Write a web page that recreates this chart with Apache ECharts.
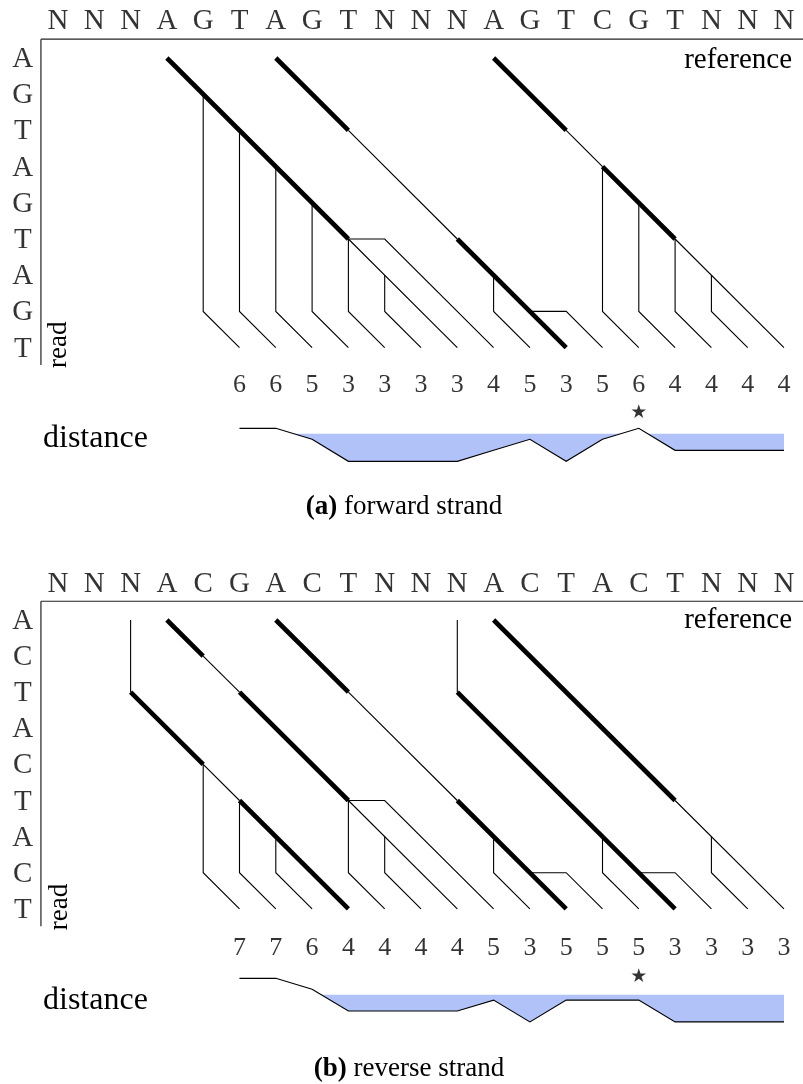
<!DOCTYPE html>
<html><head><meta charset="utf-8">
<script src="https://cdn.jsdelivr.net/npm/echarts@6/dist/echarts.min.js"></script>
<style>html,body{margin:0;padding:0;background:#fff}#c{width:803px;height:1084px}</style>
</head><body><div id="c"></div>
<script>
// ---------- Panel (a): forward strand ----------
const refA  = ['N','N','N','A','G','T','A','G','T','N','N','N','A','G','T','C','G','T','N','N','N'];
const readA = ['A','G','T','A','G','T','A','G','T'];
const distA = [6,6,5,3,3,3,3,4,5,3,5,6,4,4,4,4];
const starColA = 16;
const thickA = [
  [[3,0],[8,5]], [[6,0],[8,2]], [[11,5],[14,8]], [[12,0],[14,2]], [[15,3],[17,5]]
];
const thinA = [
  [[8,2],[11,5]], [[14,2],[15,3]], [[17,5],[20,8]],
  [[4,1],[4,7],[5,8]], [[5,2],[5,7],[6,8]], [[6,3],[6,7],[7,8]], [[7,4],[7,7],[8,8]], [[8,5],[8,7],[9,8]],
  [[8,5],[11,8]], [[8,5],[9,5],[12,8]], [[9,6],[9,7],[10,8]], [[12,6],[12,7],[13,8]], [[13,7],[14,7],[15,8]],
  [[15,3],[15,7],[16,8]], [[16,4],[16,7],[17,8]], [[17,5],[17,7],[18,8]], [[18,6],[18,7],[19,8]]
];

// ---------- Panel (b): reverse strand ----------
const refB  = ['N','N','N','A','C','G','A','C','T','N','N','N','A','C','T','A','C','T','N','N','N'];
const readB = ['A','C','T','A','C','T','A','C','T'];
const distB = [7,7,6,4,4,4,4,5,3,5,5,5,3,3,3,3];
const starColB = 16;
const thickB = [
  [[2,2],[4,4]], [[5,5],[8,8]], [[3,0],[4,1]], [[5,2],[8,5]], [[6,0],[8,2]],
  [[11,5],[14,8]], [[11,2],[17,8]], [[12,0],[17,5]]
];
const thinB = [
  [[2,0],[2,2]], [[4,4],[5,5]], [[4,1],[5,2]], [[8,2],[11,5]], [[11,0],[11,2]], [[17,5],[20,8]],
  [[4,4],[4,7],[5,8]], [[5,5],[5,7],[6,8]], [[6,6],[6,7],[7,8]], [[8,5],[8,7],[9,8]],
  [[8,5],[9,5],[12,8]], [[8,5],[11,8]], [[9,6],[9,7],[10,8]], [[12,6],[12,7],[13,8]], [[13,7],[14,7],[15,8]],
  [[15,6],[15,7],[16,8]], [[16,7],[17,7],[18,8]], [[18,6],[18,7],[19,8]]
];

const firstDistCol = 5;
const threshold = 5.5;

// ---------- layout ----------
const SERIF = "'Liberation Serif', 'Times New Roman', serif";
const FILL = '#b1c2f8';
const NUM_ROW = [9.05, 9.1];
const STAR_ROW = [9.82, 9.88];

const chart = echarts.init(document.getElementById('c'), null, {renderer:'canvas'});
const series = [];

function addPaths(paths, width, xi, yi, color){
  paths.forEach(p => series.push({
    type:'line', xAxisIndex:xi, yAxisIndex:yi, data:p, symbol:'none', clip:false,
    silent:true, animation:false, z:3,
    lineStyle:{color:color||'#000', width:width, cap:'butt', join:'miter'}
  }));
}
function addText(items, xi, yi, fontSize, family){
  series.push({
    type:'scatter', xAxisIndex:xi, yAxisIndex:yi, data:items, symbolSize:1, clip:false,
    silent:true, animation:false, itemStyle:{color:'rgba(0,0,0,0)'},
    label:{show:true, position:'inside', formatter:'{b}', color:'#000', fontSize:fontSize,
           fontFamily:family||SERIF}
  });
}
function fillPoly(vals){
  const pts = [];
  for (let i=0;i<vals.length;i++){
    const x = firstDistCol + i, v = vals[i];
    if (i>0){
      const pv = vals[i-1];
      if ((pv-threshold)*(v-threshold) < 0){
        const t = (threshold-pv)/(v-pv);
        pts.push([x-1+t, threshold]);
      }
    }
    pts.push([x, Math.min(v, threshold)]);
  }
  pts.push([firstDistCol+vals.length-1, threshold]);
  pts.push([firstDistCol, threshold]);
  return pts;
}

function buildPanel(p, ref, read, dist, starCol, thick, thin){
  const gi = p*2, pi = p*2+1;
  // frame
  addPaths([[[-0.47,-0.52],[20.7,-0.52]], [[-0.47,-0.52],[-0.47,8.48]]], 1.2, gi, gi, '#222');
  addPaths(thin, 1.1, gi, gi);
  addPaths(thick, 4.6, gi, gi);
  addText(ref.map((l,i)=>({name:l, value:[i,-1]})), gi, gi, 29);
  addText(read.map((l,j)=>({name:l, value:[-0.97, j+0.04]})), gi, gi, 29);
  addText(dist.map((d,i)=>({name:String(d), value:[firstDistCol+i, NUM_ROW[p]]})), gi, gi, 26);
  addText([{name:'★', value:[starCol, STAR_ROW[p]]}], gi, gi, 19, "'DejaVu Sans', sans-serif");
  // profile fill
  const poly = fillPoly(dist);
  series.push({
    type:'custom', xAxisIndex:pi, yAxisIndex:pi, data:[[0]], silent:true, animation:false, z:1, clip:false,
    renderItem:(params, api)=>({type:'polygon', shape:{points:poly.map(q=>api.coord(q))}, style:{fill:FILL}})
  });
  series.push({
    type:'line', xAxisIndex:pi, yAxisIndex:pi, data:dist.map((d,i)=>[firstDistCol+i,d]),
    symbol:'none', silent:true, animation:false, z:4, clip:false,
    lineStyle:{color:'#000', width:1.2, join:'miter'}
  });
}
buildPanel(0, refA, readA, distA, starColA, thickA, thinA);
buildPanel(1, refB, readB, distB, starColB, thickB, thinB);

const GL = 3.55, GW = 798.6;
const grids = [
  {left:GL, width:GW, top:3.7, height:362},
  {left:GL, width:GW, top:417.3, height:55},
  {left:GL, width:GW, top:565.85, height:361},
  {left:GL, width:GW, top:967.4, height:65.4}
];
const xAxes = grids.map((g,i)=>({type:'value', gridIndex:i, min:-1.5, max:20.5, show:false}));
const yAxes = [
  {type:'value', gridIndex:0, min:-1.5, max:8.5, inverse:true, show:false},
  {type:'value', gridIndex:1, min:2, max:7, show:false},
  {type:'value', gridIndex:2, min:-1.5, max:8.5, inverse:true, show:false},
  {type:'value', gridIndex:3, min:2, max:8, show:false}
];

function txt(text, x, y, size, align, extra){
  return Object.assign({type:'text', x:x, y:y, silent:true,
    style:{text:text, fontSize:size, fontFamily:SERIF, fill:'#000', align:align||'left', verticalAlign:'middle'}}, extra||{});
}
const graphics = [
  txt('reference', 792, 60, 29, 'right'),
  txt('reference', 792, 620, 29, 'right'),
  txt('distance', 43, 439, 32, 'left'),
  txt('distance', 43, 1001, 32, 'left'),
  txt('read', 59, 344.7, 27, 'center', {rotation:Math.PI/2}),
  txt('read', 59.5, 907, 27, 'center', {rotation:Math.PI/2}),
  {type:'text', x:404, y:507, silent:true, style:{text:'{b|(a)} forward strand', fontSize:27, fontFamily:SERIF, fill:'#000',
     align:'center', verticalAlign:'middle', rich:{b:{fontWeight:'bold', fontSize:27, fontFamily:SERIF}}}},
  {type:'text', x:409, y:1069, silent:true, style:{text:'{b|(b)} reverse strand', fontSize:27, fontFamily:SERIF, fill:'#000',
     align:'center', verticalAlign:'middle', rich:{b:{fontWeight:'bold', fontSize:27, fontFamily:SERIF}}}}
];

chart.setOption({
  animation:false,
  backgroundColor:'#fff',
  grid: grids.map(g=>Object.assign({outerBoundsMode:'none', containLabel:false}, g)),
  xAxis: xAxes, yAxis: yAxes,
  series: series,
  graphic: graphics
});
</script></body></html>
